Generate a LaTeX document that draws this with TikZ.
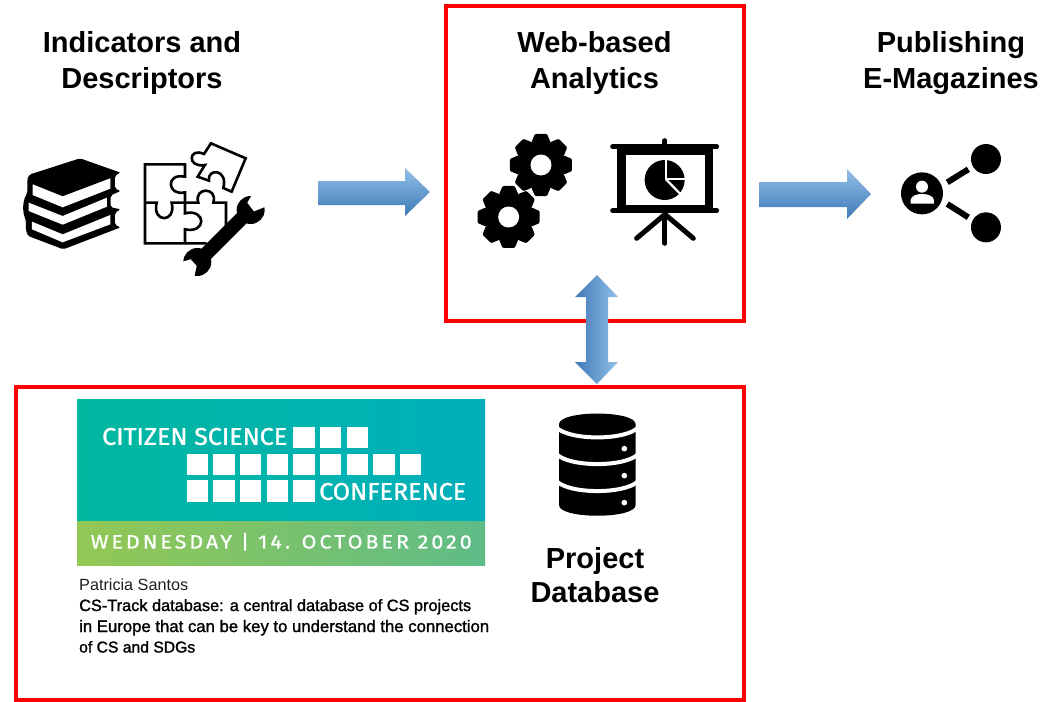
\documentclass[tikz,border=0pt]{standalone}
\usepackage{fontspec}
\setmainfont{Liberation Sans}
\newfontfamily\bannerfont[FakeBold=1.1]{Fira Sans}
\newfontfamily\datefont[LetterSpace=14,FakeBold=0.8]{Fira Sans}
\newfontfamily\semibold[FakeBold=1.4]{Liberation Sans}
\definecolor{arrowlight}{HTML}{93C0E8}
\definecolor{arrowdark}{HTML}{3E79B7}
\definecolor{framered}{HTML}{FF0000}
\definecolor{tealleft}{RGB}{0,184,160}
\definecolor{tealright}{RGB}{0,175,186}
\definecolor{greenleft}{RGB}{147,200,84}
\definecolor{greenright}{RGB}{95,188,135}
\tikzset{
  redframe/.style={draw=framered,line width=4pt},
  heading/.style={font=\fontsize{29}{36}\selectfont\bfseries,align=center,text=black},
  headingtight/.style={font=\fontsize{29}{34.5}\selectfont\bfseries,align=center,text=black},
  hole/.style={fill=white,draw=none},
  zoomA/.style={shift={(10,130)},x=0.3333pt,y=-0.3333pt},
  zoomB/.style={shift={(460,125)},x=0.3333pt,y=-0.3333pt},
  zoomD/.style={shift={(540,270)},x=0.3333pt,y=-0.3333pt},
  zoomE/.style={shift={(750,135)},x=0.3333pt,y=-0.3333pt},
  puzzle/.style={draw=black,line width=2.6pt,line join=miter,fill=none},
  rail/.style={draw=black,line width=5pt,line cap=round},
  tile/.style={fill=white,draw=none},
  bannerwhite/.style={text=white,inner sep=0pt},
  paper/.style={anchor=base west,inner sep=0pt,text=black!88},
}
\newcommand{\gearicon}[2]{%
  \begin{scope}[shift={(#1,#2)}]
    \fill[black] (0,0) circle[radius=24pt];
    \foreach \a in {0,45,...,315}{
      \begin{scope}[rotate=\a]
        \fill[black,rounded corners=1pt] (-2pt,-8pt) -- (-2pt,8pt) -- (23pt,9.5pt) -- (31pt,6pt) -- (31pt,-6pt) -- (23pt,-9.5pt) -- cycle;
      \end{scope}
    }
    \fill[white] (0,0) circle[radius=10.5pt];
  \end{scope}}
\begin{document}
\begin{tikzpicture}[x=1pt,y=-1pt]
\useasboundingbox (0,0) rectangle (1053,702);
\fill[white] (0,0) rectangle (1053,702);

% frames
\draw[redframe] (446,6) rectangle (744,321);
\draw[redframe] (16,387) rectangle (744,700);

% headings
\node[heading] (indicators) at (142,63) {Indicators and\\Descriptors};
\node[heading] (analytics) at (594.5,63) {Web-based\\Analytics};
\node[heading] (publishing) at (951,63) {Publishing\\E-Magazines};
\node[headingtight] (project) at (595,575) {Project\\Database};

% block arrows
\path[top color=arrowlight,bottom color=arrowdark] (318,181) -- (405,181) -- (405,168) -- (430,192) -- (405,216) -- (405,205) -- (318,205) -- cycle;
\path[top color=arrowlight,bottom color=arrowdark] (759,182) -- (847,182) -- (847,169) -- (871,194) -- (847,219) -- (847,207) -- (759,207) -- cycle;
\path[left color=arrowdark,right color=arrowlight] (597,275) -- (618,297) -- (608,297) -- (608,362) -- (618,362) -- (597,384) -- (575,362) -- (586,362) -- (586,297) -- (575,297) -- cycle;

% books
\begin{scope}[zoomA]
  \fill[black,rounded corners=2pt] (210,85) -- (332,128) -- (315,136) -- (315,176) -- (332,183) -- (302,196) -- (302,232) -- (332,238) -- (315,248) -- (315,285) -- (332,292) -- (160,358) -- (65,322) .. controls (50,316) and (46,300) .. (48,270) .. controls (38,250) and (36,215) .. (52,190) -- (52,150) .. controls (54,140) and (60,133) .. (70,130) -- cycle;
  \fill[hole] (68,163) -- (158,199) -- (301,145) -- (301,176) -- (158,232) -- (68,195) -- cycle;
  \fill[hole] (56,218) -- (158,258) -- (291,203) -- (291,230) -- (158,284) -- (56,243) -- cycle;
  \fill[hole] (66,275) -- (158,313) -- (301,255) -- (301,283) -- (158,337) -- (66,298) -- cycle;

  % puzzle
  \draw[puzzle] (525,218) -- (525,187) .. controls (472,200) and (465,128) .. (525,140) -- (525,103) -- (405,103) -- (405,340) -- (590,340);
  \draw[puzzle] (405,218) -- (440,218) .. controls (425,280) and (500,280) .. (485,218) -- (565,218) .. controls (550,170) and (625,170) .. (610,218) -- (648,218) -- (648,295);
  \draw[puzzle] (525,218) -- (525,250) .. controls (590,235) and (590,312) .. (525,298) -- (525,340);
  \draw[puzzle] (603,40) -- (707,85) -- (665,185) -- (640,174) .. controls (655,115) and (590,115) .. (597,152) -- (563,140) -- (585,105) .. controls (530,115) and (535,50) .. (582,72) -- cycle;

  % wrench
  \draw[black,line width=14pt] (555,405) -- (725,235);
  \fill[black] (722,240) circle[radius=42];
  \fill[black] (562,396) circle[radius=42];
  \fill[hole] (729,190) -- (712,218) -- (732,244) -- (772,228) -- (780,185) -- cycle;
  \fill[hole] (508,398) -- (542,388) -- (560,408) -- (552,445) -- (515,450) -- cycle;
\end{scope}

% gears and projector
\begin{scope}[zoomB]
  \gearicon{243}{120}
  \gearicon{146}{276}
  \fill[black] (472,65) rectangle (760,257);
  \fill[hole] (497,90) rectangle (735,240);
  \draw[rail] (458,65) -- (770,65);
  \draw[rail] (458,257) -- (770,257);
  \draw[rail] (615,47) -- (615,65);
  \draw[rail] (615,262) -- (615,355);
  \draw[rail] (615,268) -- (530,340);
  \draw[rail] (615,268) -- (700,340);
  \fill[black] (614,165) circle[radius=60];
  \draw[white,line width=2.2pt] (618,98) -- (618,163) -- (682,163);
  \draw[white,line width=2.2pt] (618,163) -- (668,214);
\end{scope}

% share icon
\begin{scope}[zoomE]
  \fill[black] (516,175) circle[radius=63];
  \fill[hole] (516,155) circle[radius=18];
  \fill[hole] (482,206) -- (482,195) .. controls (484,182) and (500,177) .. (516,177) .. controls (532,177) and (550,182) .. (552,195) -- (552,206) -- cycle;
  \fill[black] (708,72) circle[radius=45];
  \fill[black] (708,277) circle[radius=45];
  \draw[black,line width=6pt] (592,142) -- (655,103);
  \draw[black,line width=6pt] (592,207) -- (655,247);
\end{scope}

% database
\begin{scope}[zoomD]
  \fill[black] (57,463) .. controls (57,420) and (287,420) .. (287,463) -- (287,705) .. controls (287,748) and (57,748) .. (57,705) -- cycle;
  \draw[white,line width=4pt] (50,473) .. controls (90,512) and (254,512) .. (294,473);
  \draw[white,line width=4pt] (50,553) .. controls (90,592) and (254,592) .. (294,553);
  \draw[white,line width=4pt] (50,634) .. controls (90,673) and (254,673) .. (294,634);
  \fill[hole] (253,536) circle[radius=8.5];
  \fill[hole] (253,617) circle[radius=8.5];
  \fill[hole] (253,698) circle[radius=8.5];
\end{scope}

% conference banner
\path[left color=tealleft,right color=tealright] (77,399) rectangle (485,521);
\path[left color=greenleft,right color=greenright] (77,521) rectangle (485,565);
\foreach \n in {0,1,2} \fill[tile] ({293.3+26.67*\n},426.7) rectangle +(21.4,21.2);
\foreach \n in {0,...,8} \fill[tile] ({186.7+26.67*\n},453.7) rectangle +(21.4,21.2);
\foreach \n in {0,...,4} \fill[tile] ({186.7+26.67*\n},480.3) rectangle +(21.4,21.2);
\node[bannerwhite,anchor=west] (citizen) at (102,436.5) {\resizebox{185pt}{17pt}{\bannerfont\fontsize{23}{23}\selectfont CITIZEN SCIENCE}};
\node[bannerwhite,anchor=west] (conference) at (319,491.5) {\resizebox{147pt}{17pt}{\bannerfont\fontsize{23}{23}\selectfont CONFERENCE}};
\node[bannerwhite,anchor=west] (date) at (90.5,541.7) {\resizebox{381pt}{15.5pt}{\datefont\fontsize{18.5}{18.5}\selectfont WEDNESDAY | 14. OCTOBER 2020}};

% paper text
\node[paper] (author) at (79,590.5) {\resizebox{109pt}{!}{\fontsize{16}{16}\selectfont Patricia Santos}};
\node[paper,text=black] (title1) at (79,611) {\resizebox{392pt}{!}{\semibold\fontsize{16}{16}\selectfont CS-Track database: a central database of CS projects}};
\node[paper,text=black] (title2) at (79,632) {\resizebox{410pt}{!}{\semibold\fontsize{16}{16}\selectfont in Europe that can be key to understand the connection}};
\node[paper,text=black] (title3) at (79,652.5) {\resizebox{116pt}{!}{\semibold\fontsize{16}{16}\selectfont of CS and SDGs}};
\end{tikzpicture}
\end{document}
